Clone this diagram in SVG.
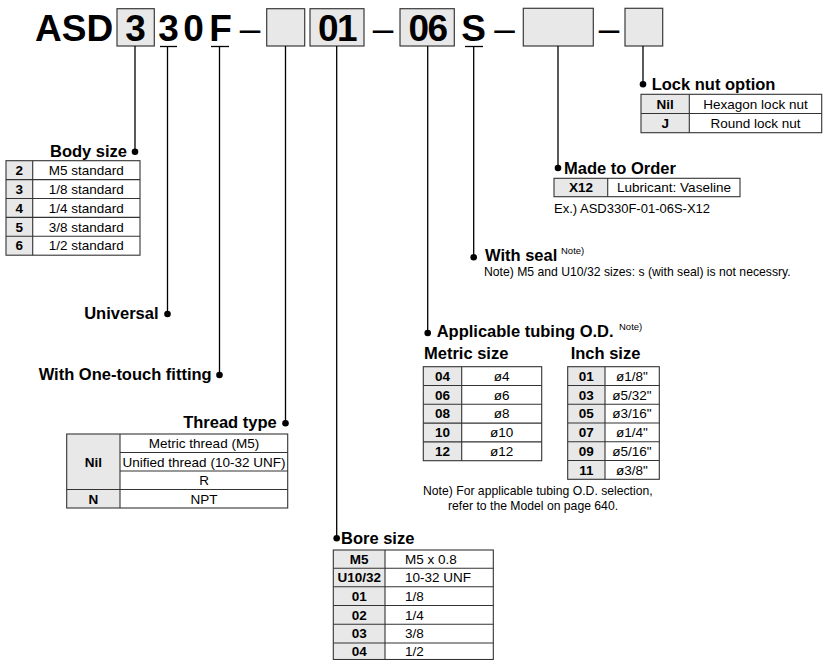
<svg xmlns="http://www.w3.org/2000/svg" width="824" height="660" viewBox="0 0 824 660">
<style>
text{font-family:"Liberation Sans",Arial,sans-serif;fill:#000}
.hd{font-size:37px;font-weight:bold}
.dash{font-size:37px;text-anchor:middle}
.ttl{font-size:16.5px;font-weight:bold}
.sup{font-size:9.5px}
.k{font-size:13.5px;font-weight:bold;text-anchor:middle}
.v{font-size:13.5px;text-anchor:middle}
.vl{font-size:13.5px}
.n{font-size:12.2px}
.ex{font-size:13px}
.box{fill:#e8e8e8;stroke:#3a3a3a;stroke-width:1.2}
.kc{fill:#e8e8e8;stroke:none}
.tb{fill:none;stroke:#333;stroke-width:1.1}
.ld{stroke:#000;stroke-width:1.3;fill:none}
.ul{stroke:#000;stroke-width:1.3}
.dot{fill:#000}
</style>

<g id="code">
<text class="hd" x="35" y="41">ASD</text>
<rect class="box" x="117" y="8.7" width="37.3" height="37.3"/>
<text class="hd" x="135.5" y="41" text-anchor="middle">3</text>
<text class="hd" x="168.5" y="41" text-anchor="middle">3</text>
<text class="hd" x="193.5" y="41" text-anchor="middle">0</text>
<text class="hd" x="220.5" y="41" text-anchor="middle">F</text>
<line class="ul" x1="160" y1="46.5" x2="177" y2="46.5"/>
<line class="ul" x1="211" y1="46.5" x2="229" y2="46.5"/>
<text class="dash" x="250" y="41">–</text>
<rect class="box" x="266.7" y="8.7" width="38" height="37.3"/>
<rect class="box" x="310" y="8.7" width="54" height="37.3"/>
<text class="hd" x="337" y="41" text-anchor="middle" letter-spacing="-1.5">01</text>
<text class="dash" x="383" y="41">–</text>
<rect class="box" x="400" y="8.7" width="54.3" height="37.3"/>
<text class="hd" x="427.5" y="41" text-anchor="middle" letter-spacing="-1.5">06</text>
<text class="hd" x="473.5" y="41" text-anchor="middle">S</text>
<line class="ul" x1="465" y1="46.5" x2="483" y2="46.5"/>
<text class="dash" x="504.5" y="41">–</text>
<rect class="box" x="523.3" y="8.3" width="70" height="37.7"/>
<text class="dash" x="609" y="41">–</text>
<rect class="box" x="625" y="8.3" width="37.7" height="37.7"/>
</g>

<g id="connectors">
<path class="ld" d="M135,46 V151.7"/>
<path class="ld" d="M167.5,46.5 V314"/>
<path class="ld" d="M219.5,46.5 V375"/>
<path class="ld" d="M285.5,46 V423.3"/>
<path class="ld" d="M336.7,46 V538.3"/>
<path class="ld" d="M427.7,46 V333"/>
<path class="ld" d="M473.7,46.5 V257.3"/>
<path class="ld" d="M558,46 V168"/>
<path class="ld" d="M643,46 V84.3"/>
<circle class="dot" cx="135" cy="151.7" r="3.3"/>
<circle class="dot" cx="167.5" cy="314" r="3.3"/>
<circle class="dot" cx="219.5" cy="375" r="3.3"/>
<circle class="dot" cx="285.5" cy="423.3" r="3.3"/>
<circle class="dot" cx="336.7" cy="538.3" r="3.3"/>
<circle class="dot" cx="427.7" cy="333" r="3.3"/>
<circle class="dot" cx="473.7" cy="257.3" r="3.3"/>
<circle class="dot" cx="558" cy="168" r="3.3"/>
<circle class="dot" cx="643" cy="84.3" r="3.3"/>
</g>

<g id="body-size">
<text class="ttl" x="127" y="156.7" text-anchor="end">Body size</text>
<rect class="kc" x="6" y="160.7" width="26.7" height="94.5"/>
<rect class="tb" x="6" y="160.7" width="134" height="94.5"/>
<path class="tb" d="M32.7,160.7 V255.2 M6,179.6 H140 M6,198.5 H140 M6,217.4 H140 M6,236.3 H140"/>
<text class="k" x="19.3" y="174.8">2</text><text class="v" x="86.3" y="174.8">M5 standard</text>
<text class="k" x="19.3" y="193.7">3</text><text class="v" x="86.3" y="193.7">1/8 standard</text>
<text class="k" x="19.3" y="212.6">4</text><text class="v" x="86.3" y="212.6">1/4 standard</text>
<text class="k" x="19.3" y="231.5">5</text><text class="v" x="86.3" y="231.5">3/8 standard</text>
<text class="k" x="19.3" y="250.4">6</text><text class="v" x="86.3" y="250.4">1/2 standard</text>
</g>

<g id="universal">
<text class="ttl" x="158.5" y="318.8" text-anchor="end">Universal</text>
</g>

<g id="one-touch">
<text class="ttl" x="211.7" y="379.8" text-anchor="end">With One-touch fitting</text>
</g>

<g id="thread-type">
<text class="ttl" x="276.7" y="427.5" text-anchor="end">Thread type</text>
<rect class="kc" x="66.7" y="434" width="53.3" height="74"/>
<rect class="tb" x="66.7" y="434" width="221" height="74"/>
<path class="tb" d="M120,434 V508 M120,452.5 H287.7 M120,471 H287.7 M66.7,489.5 H287.7"/>
<text class="k" x="93.3" y="466.5">Nil</text>
<text class="k" x="93.3" y="503.5">N</text>
<text class="v" x="204" y="448">Metric thread (M5)</text>
<text class="v" x="204" y="466.5">Unified thread (10-32 UNF)</text>
<text class="v" x="204" y="485">R</text>
<text class="v" x="204" y="503.5">NPT</text>
</g>

<g id="bore-size">
<text class="ttl" x="341" y="543.5">Bore size</text>
<rect class="kc" x="333.3" y="550" width="51.7" height="109.5"/>
<rect class="tb" x="333.3" y="550" width="160" height="109.5"/>
<path class="tb" d="M385,550 V659.5 M333.3,568.3 H493.3 M333.3,586.7 H493.3 M333.3,605.5 H493.3 M333.3,624.3 H493.3 M333.3,643 H493.3"/>
<text class="k" x="359.2" y="563.8">M5</text><text class="vl" x="405" y="563.8">M5 x 0.8</text>
<text class="k" x="359.2" y="582.2">U10/32</text><text class="vl" x="405" y="582.2">10-32 UNF</text>
<text class="k" x="359.2" y="600.8">01</text><text class="vl" x="405" y="600.8">1/8</text>
<text class="k" x="359.2" y="619.6">02</text><text class="vl" x="405" y="619.6">1/4</text>
<text class="k" x="359.2" y="638.3">03</text><text class="vl" x="405" y="638.3">3/8</text>
<text class="k" x="359.2" y="656">04</text><text class="vl" x="405" y="656">1/2</text>
</g>

<g id="tubing">
<text class="ttl" x="436.7" y="337">Applicable tubing O.D.</text>
<text class="sup" x="619" y="330">Note)</text>
<text class="ttl" x="424" y="358.5">Metric size</text>
<text class="ttl" x="570.7" y="358.5">Inch size</text>
<rect class="kc" x="423.3" y="366.7" width="38.4" height="94"/>
<rect class="tb" x="423.3" y="366.7" width="118.4" height="94"/>
<path class="tb" d="M461.7,366.7 V460.7 M423.3,385.5 H541.7 M423.3,404.3 H541.7 M423.3,423.1 H541.7 M423.3,441.9 H541.7"/>
<text class="k" x="442.5" y="380.8">04</text><text class="v" x="501.7" y="380.8">ø4</text>
<text class="k" x="442.5" y="399.6">06</text><text class="v" x="501.7" y="399.6">ø6</text>
<text class="k" x="442.5" y="418.4">08</text><text class="v" x="501.7" y="418.4">ø8</text>
<text class="k" x="442.5" y="437.2">10</text><text class="v" x="501.7" y="437.2">ø10</text>
<text class="k" x="442.5" y="456">12</text><text class="v" x="501.7" y="456">ø12</text>
<rect class="kc" x="567.7" y="366.7" width="37.3" height="112.6"/>
<rect class="tb" x="567.7" y="366.7" width="91.6" height="112.6"/>
<path class="tb" d="M605,366.7 V479.3 M567.7,385.5 H659.3 M567.7,404.2 H659.3 M567.7,423 H659.3 M567.7,441.8 H659.3 M567.7,460.5 H659.3"/>
<text class="k" x="586.3" y="380.8">01</text><text class="v" x="632" y="380.8">ø1/8"</text>
<text class="k" x="586.3" y="399.6">03</text><text class="v" x="632" y="399.6">ø5/32"</text>
<text class="k" x="586.3" y="418.3">05</text><text class="v" x="632" y="418.3">ø3/16"</text>
<text class="k" x="586.3" y="437.1">07</text><text class="v" x="632" y="437.1">ø1/4"</text>
<text class="k" x="586.3" y="455.9">09</text><text class="v" x="632" y="455.9">ø5/16"</text>
<text class="k" x="586.3" y="474.6">11</text><text class="v" x="632" y="474.6">ø3/8"</text>
<text class="n" x="423" y="495">Note) For applicable tubing O.D. selection,</text>
<text class="n" x="448" y="510">refer to the Model on page 640.</text>
</g>

<g id="with-seal">
<text class="ttl" x="485" y="261">With seal</text>
<text class="sup" x="561" y="254">Note)</text>
<text class="n" x="484" y="275.5">Note) M5 and U10/32 sizes: s (with seal) is not necessry.</text>
</g>

<g id="made-to-order">
<text class="ttl" x="564" y="173.5">Made to Order</text>
<rect class="kc" x="554" y="178.3" width="53.7" height="18.4"/>
<rect class="tb" x="554" y="178.3" width="186" height="18.4"/>
<path class="tb" d="M607.7,178.3 V196.7"/>
<text class="k" x="581" y="192.3">X12</text>
<text class="v" x="674" y="192.3">Lubricant: Vaseline</text>
<text class="ex" x="554" y="213.3">Ex.) ASD330F-01-06S-X12</text>
</g>

<g id="lock-nut">
<text class="ttl" x="651.7" y="89.5">Lock nut option</text>
<rect class="kc" x="641" y="94.3" width="48.3" height="38.4"/>
<rect class="tb" x="641" y="94.3" width="180.7" height="38.4"/>
<path class="tb" d="M689.3,94.3 V132.7 M641,113.5 H821.7"/>
<text class="k" x="665.2" y="108.6">Nil</text><text class="v" x="755.5" y="108.6">Hexagon lock nut</text>
<text class="k" x="665.2" y="127.8">J</text><text class="v" x="755.5" y="127.8">Round lock nut</text>
</g>
</svg>
